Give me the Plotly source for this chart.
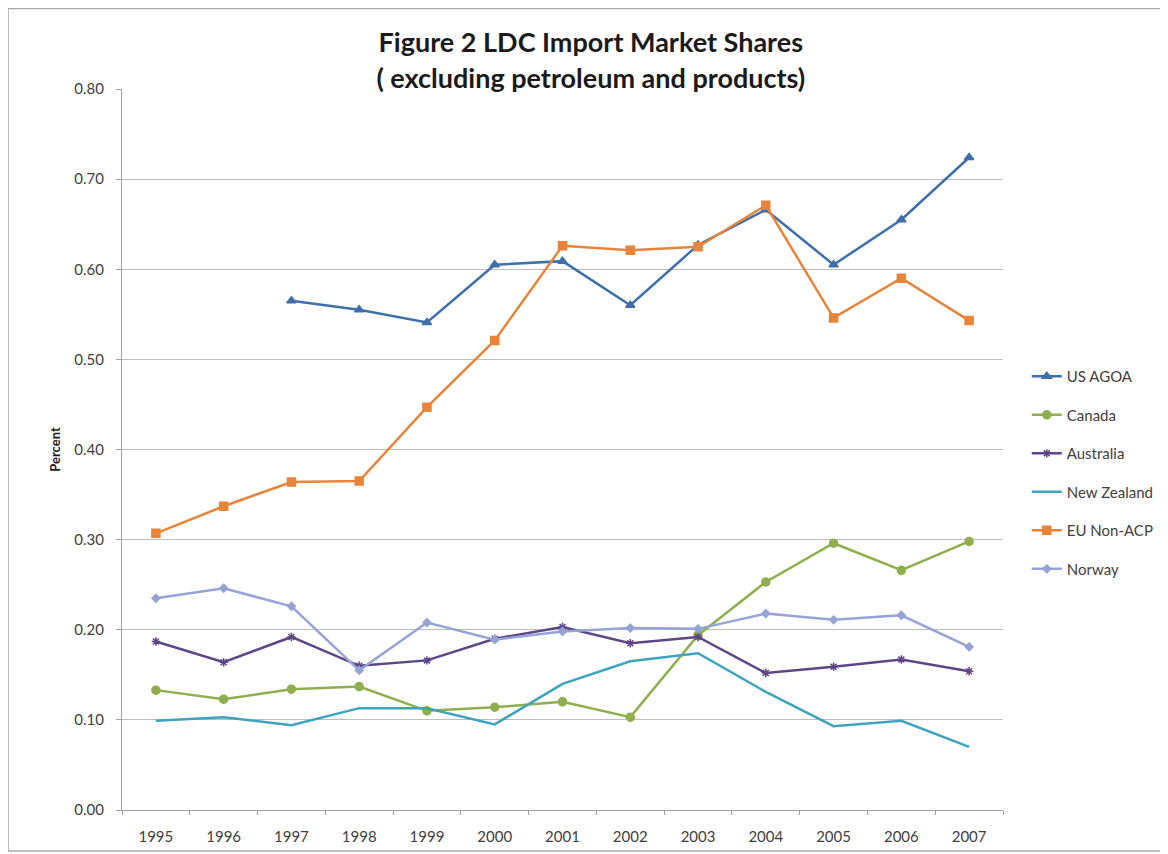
import plotly.graph_objects as go

years = ["1995", "1996", "1997", "1998", "1999", "2000", "2001",
         "2002", "2003", "2004", "2005", "2006", "2007"]

us_agoa = [None, None, 0.565, 0.555, 0.541, 0.605, 0.609,
           0.560, 0.627, 0.666, 0.605, 0.655, 0.724]
canada = [0.133, 0.123, 0.134, 0.137, 0.110, 0.114, 0.120,
          0.103, 0.194, 0.253, 0.296, 0.266, 0.298]
australia = [0.187, 0.164, 0.192, 0.160, 0.166, 0.190, 0.203,
             0.185, 0.192, 0.152, 0.159, 0.167, 0.154]
new_zealand = [0.099, 0.103, 0.094, 0.113, 0.113, 0.095, 0.140,
               0.165, 0.174, 0.131, 0.093, 0.099, 0.070]
eu_non_acp = [0.307, 0.337, 0.364, 0.365, 0.447, 0.521, 0.626,
              0.621, 0.625, 0.671, 0.546, 0.590, 0.543]
norway = [0.235, 0.246, 0.226, 0.155, 0.208, 0.189, 0.198,
          0.202, 0.201, 0.218, 0.211, 0.216, 0.181]

series = [
    ("US AGOA", us_agoa, "#3F6FA8", "triangle-up", 8),
    ("Canada", canada, "#8FAE4E", "circle", 8),
    ("Australia", australia, "#5E4585", "asterisk-open", 7),
    ("New Zealand", new_zealand, "#3FA3BD", None, 0),
    ("EU Non-ACP", eu_non_acp, "#E8843A", "square", 8),
    ("Norway", norway, "#95A3D6", "diamond", 6),
]

fig = go.Figure()
for i, (name, vals, color, sym, size) in enumerate(series):
    if sym is None:
        fig.add_trace(go.Scatter(x=years, y=vals, name=name, mode="lines",
                                 line=dict(color=color, width=2.5),
                                 legendgroup=str(i)))
    else:
        fig.add_trace(go.Scatter(x=years, y=vals, name=name, mode="lines+markers",
                                 line=dict(color=color, width=2.5),
                                 marker=dict(symbol=sym, size=size, color=color,
                                             line=dict(color=color, width=1.5)),
                                 legendgroup=str(i)))

L, T, R, B = 114, 81, 173, 52
PW, PH = 1168 - L - R, 854 - T - B

fig.update_layout(
    width=1168, height=854,
    paper_bgcolor="white", plot_bgcolor="white",
    margin=dict(l=L, r=R, t=T, b=B),
    font=dict(family="Lato, Open Sans, sans-serif", color="#404040"),
    title=dict(text="<b>Figure 2 LDC Import Market Shares<br>( excluding petroleum and products)</b>",
               x=0.499, xanchor="center", y=0.948, yanchor="top",
               font=dict(size=27, color="#1a1a1a")),
    showlegend=True,
    legend=dict(x=1.027, xanchor="left", y=0.624, yanchor="top",
                font=dict(size=15, color="#404040"),
                tracegroupgap=16, itemwidth=30,
                bgcolor="rgba(0,0,0,0)"),
    xaxis=dict(type="category", range=[-0.5, len(years) - 0.5],
               tickson="boundaries", ticks="outside", ticklen=4,
               ticklabelstandoff=13,
               tickcolor="#A0A0A0", showline=True, linecolor="#A0A0A0",
               showgrid=False, tickfont=dict(size=15, color="#404040")),
    yaxis=dict(range=[0, 0.8], dtick=0.1, tickformat=".2f", ticks="outside", ticklen=5,
               ticklabelstandoff=9,
               tickcolor="#A0A0A0", showline=True, linecolor="#A0A0A0",
               gridcolor="#BDBDBD", gridwidth=1, zeroline=False,
               tickfont=dict(size=15, color="#404040"),
               title=dict(text="<b>Percent</b>", font=dict(size=13, color="#1a1a1a"),
                          standoff=10)),
    shapes=[dict(type="rect", xref="paper", yref="paper",
                 x0=-L / PW, x1=(1158 - L) / PW,
                 y0=(PH + T - 843) / PH, y1=(PH + T - 0.5) / PH,
                 line=dict(color="#A8A8A8", width=1.5), layer="below")],
)

fig.write_html("out.html")
